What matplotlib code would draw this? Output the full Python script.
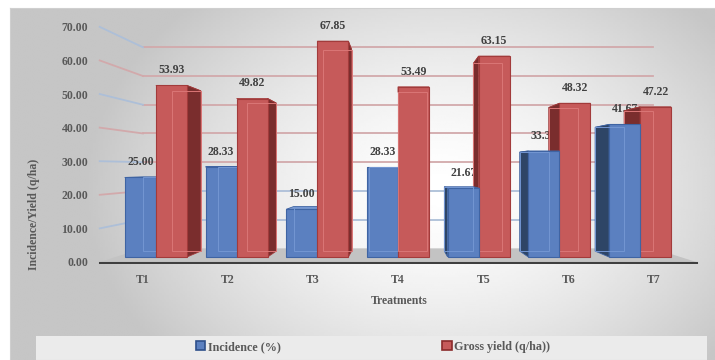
import numpy as np
import matplotlib.pyplot as plt
from matplotlib.patches import Polygon, Rectangle, Patch

treatments = ["T1", "T2", "T3", "T4", "T5", "T6", "T7"]
incidence = [25.00, 28.33, 15.00, 28.33, 21.67, 33.33, 41.67]
gross_yield = [53.93, 49.82, 67.85, 53.49, 63.15, 48.32, 47.22]
y_ticks = [0, 10, 20, 30, 40, 50, 60, 70]

plt.rcParams['font.family'] = ['Liberation Serif', 'DejaVu Serif']
plt.rcParams['font.weight'] = 'bold'

W, H = 715, 360
fig = plt.figure(figsize=(7.15, 3.6), dpi=100)

# chart area background (soft radial gradient)
bg = fig.add_axes([10 / W, 0, 705 / W, 352 / H], zorder=0)
xx, yy = np.meshgrid(np.linspace(10, 715, 300), np.linspace(8, 360, 160))
d = np.sqrt(((xx - 440) / 340) ** 2 + ((yy - 190) / 250) ** 2)
shade = 1 - 0.21 * np.clip(d, 0, 1.05) ** 1.5
bg.imshow(shade, cmap='gray', vmin=0, vmax=1, extent=(0, 1, 0, 1), aspect='auto')
bg.set_xticks([])
bg.set_yticks([])
for s in bg.spines.values():
    s.set_color('#cfcfcf')
    s.set_linewidth(0.8)
bg.add_patch(Rectangle((36 / W, 0), 671 / W, 24 / H, transform=fig.transFigure,
                       facecolor='#ebebeb', edgecolor='none'))

ax = fig.add_axes([98 / W, 96 / H, 602 / W, 244 / H], zorder=1)
ax.patch.set_alpha(0)
ax.set_xlim(-0.717, 6.742)
ax.set_ylim(-2.2, 74.5)
for s in ax.spines.values():
    s.set_visible(False)

# simple perspective: scale around a vanishing point
VX, VY = 3.0, 28.0
K_LAB, K_WALL, K_BACK = 1.056, 0.903, 0.934
XL, XR = -0.5, 6.5


def proj(x, y, k):
    return VX + (x - VX) * k, VY + (y - VY) * k


# floor
fl = [proj(XL, 0, K_LAB), proj(XR, 0, K_LAB), proj(XR, 0, K_WALL), proj(XL, 0, K_WALL)]
ax.add_patch(Polygon(fl, closed=True, facecolor='#c3c3c3', edgecolor='none', zorder=1))
ax.plot([fl[0][0], fl[1][0]], [fl[0][1] - 0.3, fl[1][1] - 0.3], color='#3f3f3f', lw=2.2, zorder=2)

# gridlines on back wall + left wall
for n, v in enumerate(y_ticks[1:]):
    wc = '#d2a9ab' if v >= 30 else '#adbfd8'
    dc = '#d2a9ab' if n % 2 else '#adbfd8'
    a = proj(XL, v, K_WALL)
    b = proj(XR, v, K_WALL)
    c = proj(XL, v, K_LAB)
    ax.plot([a[0], b[0]], [a[1], b[1]], color=wc, lw=1.3, zorder=1)
    ax.plot([c[0], a[0]], [c[1], a[1]], color=dc, lw=1.3, zorder=1)

ax.set_yticks([proj(0, v, K_LAB)[1] for v in y_ticks])
ax.set_yticklabels([f"{v:.2f}" for v in y_ticks])
ax.set_xticks([proj(i, 0, K_LAB)[0] for i in range(len(treatments))])
ax.set_xticklabels(treatments)
ax.tick_params(axis='y', length=0, pad=7, labelsize=8.5, labelcolor='#595959')
ax.tick_params(axis='x', length=0, pad=7, labelsize=8.5, labelcolor='#595959')
ax.set_xlabel('Treatments', fontsize=8.5, color='#595959', fontweight='bold')
ax.xaxis.set_label_coords(0.5, -0.125)
fig.text(34 / W, 1 - 214 / H, 'Incidence/Yield (q/ha)', rotation=90, ha='center', va='center',
         fontsize=8.5, color='#595959', fontweight='bold')

bar_w = 0.385
blue = dict(front='#5b80c0', side='#2e4566', top='#7d9dd3', edge='#3f64a3', inner='#7396d2')
red = dict(front='#c65a5a', side='#7a2d2d', top='#d98585', edge='#a23b3b', inner='#da7676')

bars = []
for i in range(len(treatments)):
    bars.append((i - bar_w, incidence[i], blue))
    bars.append((i, gross_yield[i], red))
bars.sort(key=lambda b: -abs(b[0] + bar_w / 2 - VX))

# value labels sit behind the bars, like in the original
for x0, h, col in bars:
    ax.annotate(f"{h:.2f}", (x0 + bar_w / 2, h), xytext=(0, 11), textcoords='offset points',
                ha='center', va='center', fontsize=8.5, color='#404040', zorder=3)

z = 4
for x0, h, col in bars:
    x1 = x0 + bar_w
    bx0, b0 = proj(x0, 0, K_BACK)
    bx1, bh = proj(x1, h, K_BACK)
    if x0 + bar_w / 2 < VX:
        side = [(x1, 0), (x1, h), (bx1, bh), (bx1, b0)]
    else:
        side = [(x0, 0), (x0, h), (bx0, bh), (bx0, b0)]
    top = [(x0, h), (x1, h), (bx1, bh), (bx0, bh)]
    ax.add_patch(Polygon(top, closed=True, facecolor=col['top'], edgecolor=col['edge'], lw=0.6, zorder=z))
    ax.add_patch(Polygon(side, closed=True, facecolor=col['side'], edgecolor=col['edge'], lw=0.6, zorder=z + 0.05))
    ax.add_patch(Rectangle((x0, 0), bar_w, h, facecolor=col['front'], edgecolor=col['edge'], lw=0.8, zorder=z + 0.1))
    ax.add_patch(Polygon([(bx0, b0), (bx1, b0), (bx1, bh), (bx0, bh)], closed=True, fill=False,
                         edgecolor=col['inner'], lw=0.7, zorder=z + 0.2))
    z += 1

handles = [Patch(facecolor=blue['front'], edgecolor='#2e4f8a', lw=1.2, label='Incidence (%)'),
           Patch(facecolor=red['front'], edgecolor='#8a2a2a', lw=1.2, label='Gross yield (q/ha))')]
fig.legend(handles=handles, loc='center', bbox_to_anchor=(373 / W, 1 - 347 / H), ncol=2,
           frameon=False, prop={'size': 8.7, 'weight': 'bold'}, labelcolor='#595959',
           handlelength=0.8, handleheight=0.8, handletextpad=0.2, columnspacing=13.4)

fig.savefig('out.png', dpi=100)
